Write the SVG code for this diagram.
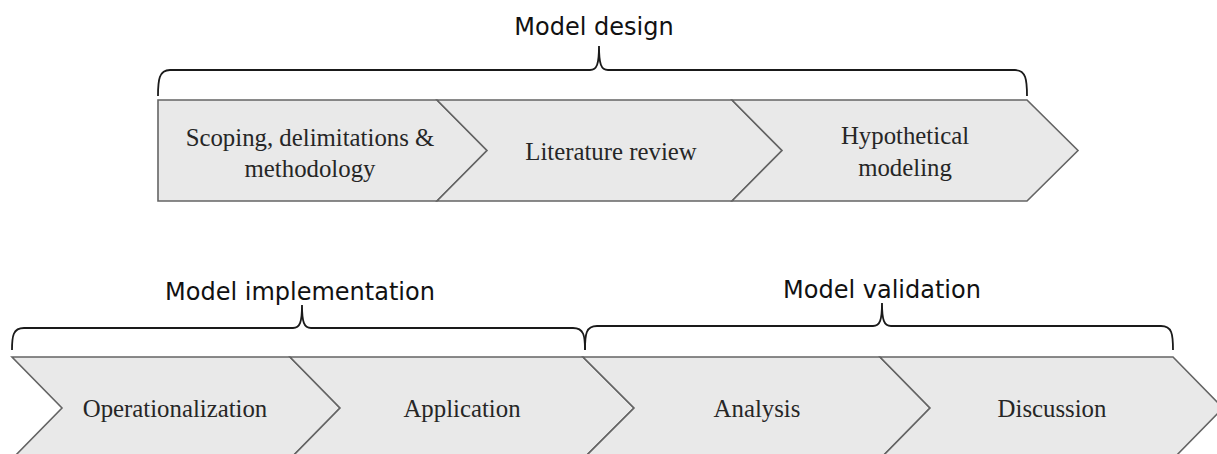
<svg xmlns="http://www.w3.org/2000/svg" width="1217" height="454" viewBox="0 0 1217 454">
<style>
.chev{fill:#e9e9e9;stroke:#646464;stroke-width:1.6;stroke-linejoin:miter}
.brace{fill:none;stroke:#1a1a1a;stroke-width:1.8}
.lbl{font-family:"DejaVu Sans",sans-serif;font-size:24px;fill:#111;text-anchor:middle}
.txt{font-family:"Liberation Serif",serif;font-size:24.8px;fill:#262626;text-anchor:middle}
</style>
<rect width="1217" height="454" fill="#fff"/>
<g id="connectors">
<path class="brace" d="M158,96 C158,80 159,70 170,70 L590,70 C597,70 599,64 599,46 C599,64 601,70 608,70 L1015,70 C1026,70 1027,80 1027,96"/>
<path class="brace" d="M12,350 C12,336 13,328 24,328 L293,328 C300,328 302,322 302,305 C302,322 304,328 311,328 L573,328 C584,328 585,336 585,350"/>
<path class="brace" d="M585,350 C585,334 586,326 597,326 L873,326 C880,326 882,320 882,303 C882,320 884,326 891,326 L1161,326 C1172,326 1173,334 1173,350"/>
</g>
<g id="label-design"><text class="lbl" x="594" y="35">Model design</text></g>
<g id="label-implementation"><text class="lbl" x="300" y="300">Model implementation</text></g>
<g id="label-validation"><text class="lbl" x="882" y="298">Model validation</text></g>
<g id="node-scoping">
<path class="chev" d="M158,100 L437,100 L487,150.5 L437,201 L158,201 Z"/>
<text class="txt" x="310" y="146">Scoping, delimitations &amp;</text>
<text class="txt" x="310" y="177">methodology</text>
</g>
<g id="node-literature">
<path class="chev" d="M437,100 L732,100 L782,150.5 L732,201 L437,201 L487,150.5 Z"/>
<text class="txt" x="611" y="160">Literature review</text>
</g>
<g id="node-hypothetical">
<path class="chev" d="M732,100 L1027,100 L1078,150.5 L1027,201 L732,201 L782,150.5 Z"/>
<text class="txt" x="905" y="144">Hypothetical</text>
<text class="txt" x="905" y="176">modeling</text>
</g>
<g id="node-operationalization">
<path class="chev" d="M12,357 L290,357 L340,408 L290,459 L12,459 L62,408 Z"/>
<text class="txt" x="175" y="417">Operationalization</text>
</g>
<g id="node-application">
<path class="chev" d="M290,357 L583,357 L634,408 L583,459 L290,459 L340,408 Z"/>
<text class="txt" x="462" y="417">Application</text>
</g>
<g id="node-analysis">
<path class="chev" d="M583,357 L880,357 L930,408 L880,459 L583,459 L634,408 Z"/>
<text class="txt" x="757" y="417">Analysis</text>
</g>
<g id="node-discussion">
<path class="chev" d="M880,357 L1173,357 L1223,408 L1173,459 L880,459 L930,408 Z"/>
<text class="txt" x="1052" y="417">Discussion</text>
</g>
</svg>
